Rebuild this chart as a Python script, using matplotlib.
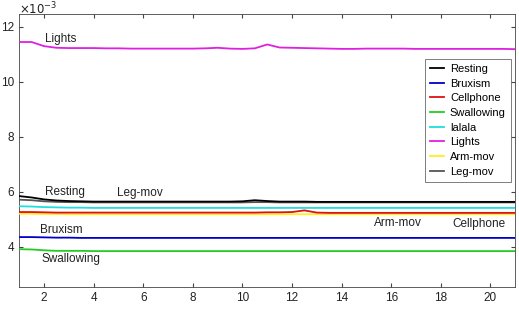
import numpy as np
import matplotlib
matplotlib.use("Agg")
import matplotlib.pyplot as plt

plt.rcParams["font.family"] = ["Liberation Sans", "DejaVu Sans"]

# x grid (half steps), values in units of 1e-3
x = np.arange(1, 21.5, 0.5)

lights = [11.45, 11.45, 11.30, 11.24, 11.23, 11.23, 11.23, 11.22, 11.22, 11.21,
          11.21, 11.21, 11.21, 11.21, 11.21, 11.22, 11.24, 11.21, 11.20, 11.22,
          11.36, 11.25, 11.24, 11.23, 11.22, 11.21, 11.20, 11.20, 11.21, 11.21,
          11.21, 11.21, 11.20, 11.20, 11.20, 11.20, 11.20, 11.20, 11.20, 11.20, 11.19]
resting = [5.85, 5.80, 5.73, 5.69, 5.67, 5.66, 5.65, 5.65, 5.65, 5.65,
           5.65, 5.65, 5.65, 5.65, 5.65, 5.65, 5.65, 5.65, 5.66, 5.70,
           5.67, 5.65, 5.65, 5.65, 5.64, 5.64, 5.64, 5.64, 5.64, 5.64,
           5.64, 5.64, 5.64, 5.64, 5.64, 5.64, 5.64, 5.64, 5.64, 5.64, 5.64]
legmov = [5.72, 5.70, 5.66, 5.64, 5.63, 5.63, 5.62, 5.62, 5.62, 5.62,
          5.62, 5.62, 5.62, 5.62, 5.62, 5.62, 5.62, 5.62, 5.62, 5.63,
          5.63, 5.62, 5.62, 5.62, 5.62, 5.62, 5.62, 5.62, 5.62, 5.62,
          5.62, 5.62, 5.62, 5.62, 5.62, 5.62, 5.62, 5.62, 5.62, 5.62, 5.62]
lalala = [5.48, 5.47, 5.45, 5.44, 5.43, 5.43, 5.42, 5.42, 5.42, 5.42,
          5.42, 5.42, 5.42, 5.42, 5.42, 5.42, 5.42, 5.42, 5.42, 5.42,
          5.42, 5.42, 5.42, 5.42, 5.42, 5.42, 5.42, 5.42, 5.42, 5.42,
          5.42, 5.42, 5.42, 5.42, 5.42, 5.42, 5.42, 5.42, 5.42, 5.42, 5.42]
cellphone = [5.27, 5.27, 5.26, 5.25, 5.25, 5.25, 5.25, 5.25, 5.25, 5.25,
             5.25, 5.25, 5.25, 5.25, 5.25, 5.25, 5.25, 5.25, 5.25, 5.25,
             5.26, 5.26, 5.27, 5.33, 5.25, 5.24, 5.24, 5.24, 5.24, 5.24,
             5.24, 5.24, 5.24, 5.24, 5.24, 5.24, 5.24, 5.24, 5.24, 5.24, 5.24]
armmov = [5.21, 5.21, 5.20, 5.20, 5.19, 5.19, 5.19, 5.19, 5.19, 5.19,
          5.19, 5.19, 5.19, 5.19, 5.19, 5.19, 5.19, 5.19, 5.19, 5.19,
          5.19, 5.19, 5.19, 5.19, 5.19, 5.19, 5.19, 5.19, 5.19, 5.19,
          5.19, 5.19, 5.19, 5.19, 5.19, 5.19, 5.19, 5.19, 5.19, 5.19, 5.19]
bruxism = [4.36, 4.36, 4.35, 4.34, 4.34, 4.33, 4.33, 4.33, 4.33, 4.33,
           4.33, 4.33, 4.33, 4.33, 4.33, 4.33, 4.33, 4.33, 4.33, 4.33,
           4.33, 4.33, 4.33, 4.33, 4.33, 4.33, 4.33, 4.33, 4.33, 4.33,
           4.33, 4.33, 4.33, 4.33, 4.33, 4.33, 4.33, 4.33, 4.33, 4.33, 4.33]
swallowing = [3.92, 3.91, 3.88, 3.86, 3.86, 3.86, 3.85, 3.85, 3.85, 3.85,
              3.85, 3.85, 3.85, 3.85, 3.85, 3.85, 3.85, 3.85, 3.85, 3.85,
              3.85, 3.85, 3.85, 3.85, 3.85, 3.85, 3.85, 3.85, 3.85, 3.85,
              3.85, 3.85, 3.85, 3.85, 3.85, 3.85, 3.85, 3.85, 3.85, 3.85, 3.85]

series = [
    ("Resting", resting, "#000000"),
    ("Bruxism", bruxism, "#0000cc"),
    ("Cellphone", cellphone, "#e01010"),
    ("Swallowing", swallowing, "#22cc22"),
    ("lalala", lalala, "#22dddd"),
    ("Lights", lights, "#e020e0"),
    ("Arm-mov", armmov, "#ffee22"),
    ("Leg-mov", legmov, "#555555"),
]
draw_order = ["Lights", "Swallowing", "Bruxism", "Arm-mov", "Cellphone", "lalala", "Leg-mov", "Resting"]

annotations = [
    ("Lights", 2.05, 11.56),
    ("Resting", 2.05, 6.0),
    ("Leg-mov", 4.95, 5.98),
    ("Bruxism", 1.85, 4.62),
    ("Swallowing", 1.9, 3.55),
    ("Arm-mov", 15.3, 4.87),
    ("Cellphone", 18.45, 4.84),
]

fig = plt.figure(figsize=(5.19, 3.17), dpi=100)
ax = fig.add_axes([0.037, 0.095, 0.9557, 0.861])

lines = {}
for name, vals, col in series:
    z = 3 + draw_order.index(name)
    (ln,) = ax.plot(x, vals, color=col, lw=1.3, label=name, zorder=z)
    lines[name] = ln

for txt, tx, ty in annotations:
    ax.text(tx, ty, txt, fontsize=8.5, color="#222222", va="center", ha="left")

ax.set_xlim(1, 21)
ax.set_ylim(2.55, 12.47)
ax.set_xticks(np.arange(2, 21, 2))
ax.set_yticks([4, 6, 8, 10, 12])
ax.tick_params(direction="in", top=True, right=True, labelsize=8.5,
               length=3, color="#444444", labelcolor="#222222")
for sp in ax.spines.values():
    sp.set_color("#444444")
    sp.set_linewidth(0.6)

fig.text(0.037, 0.997, r"$\times 10^{-3}$", fontsize=8.5, ha="left", va="top", color="#222222")

leg = ax.legend([lines[n] for n, _, _ in series], [n for n, _, _ in series],
                loc="upper left", bbox_to_anchor=(0.818, 0.835), fontsize=8,
                frameon=True, fancybox=False, edgecolor="#444444",
                handlelength=1.3, handletextpad=0.5, labelspacing=0.42,
                borderpad=0.45, borderaxespad=0)
leg.get_frame().set_linewidth(0.6)

fig.savefig("out.png", dpi=100)
